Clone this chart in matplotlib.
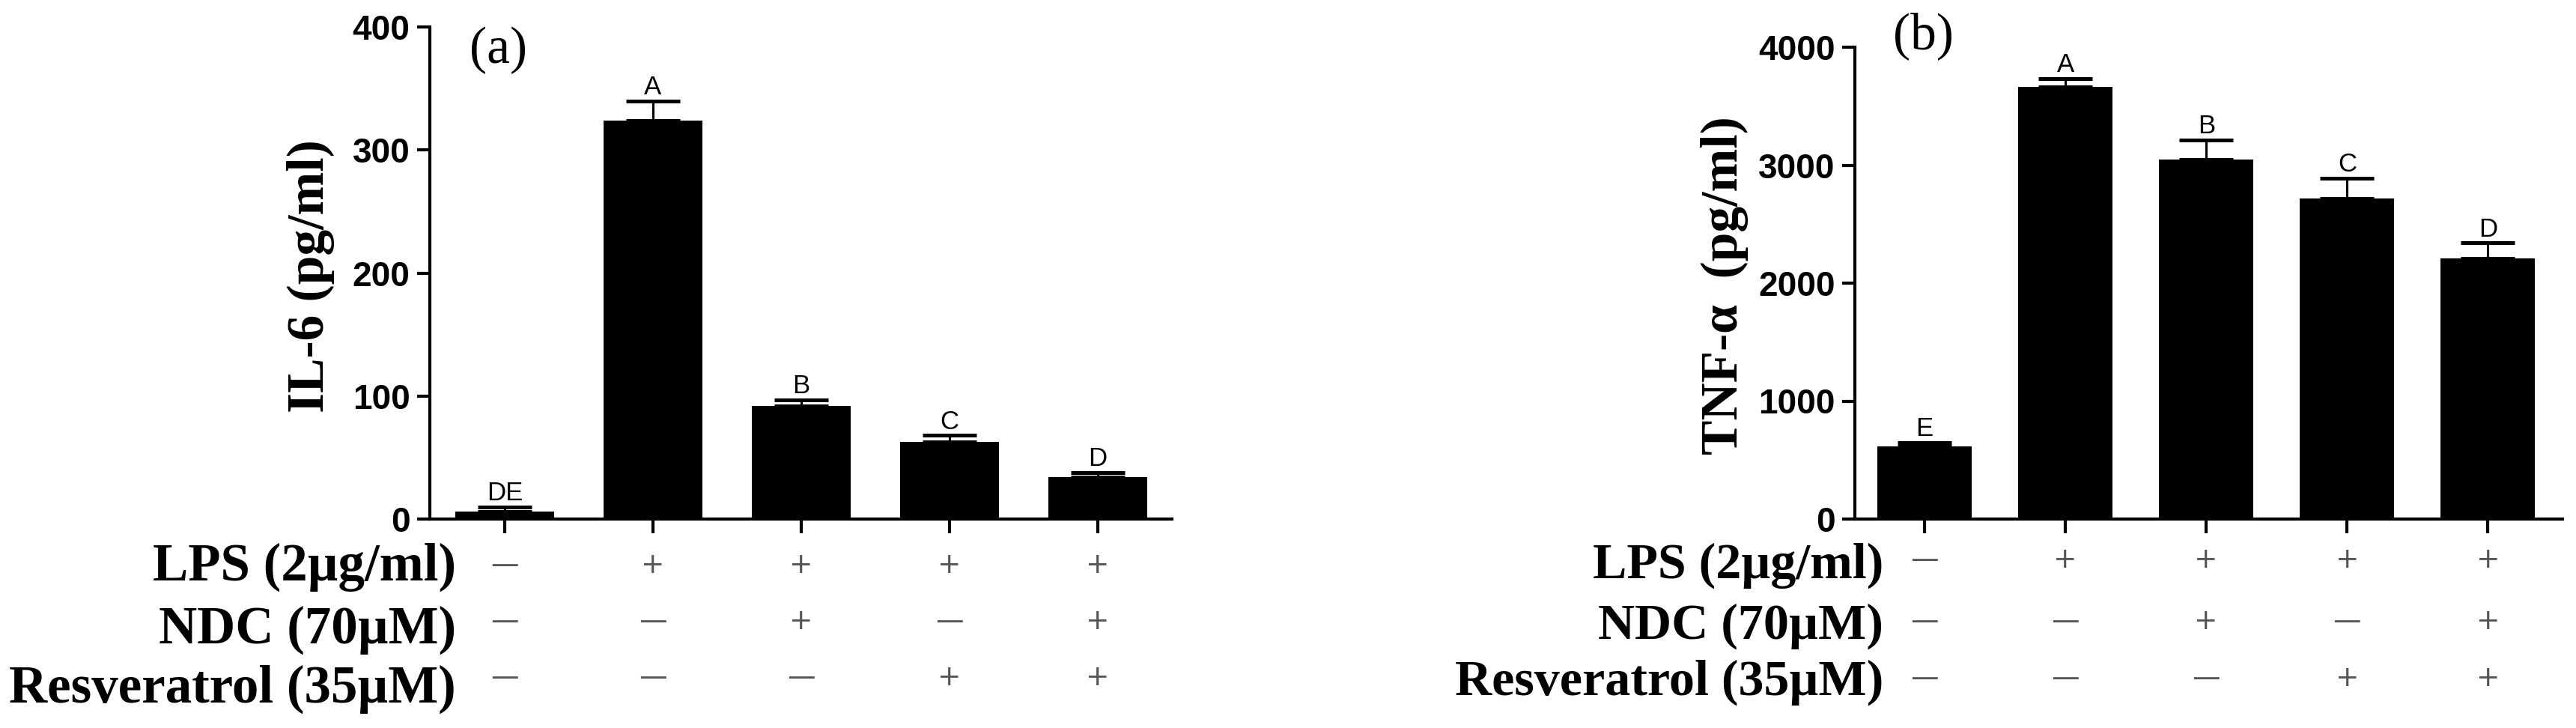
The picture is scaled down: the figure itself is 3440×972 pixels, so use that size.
import numpy as np
import matplotlib as mpl
mpl.use('Agg')
import matplotlib.pyplot as plt

# treatment grid shown under both panels
lps = ['—', '+', '+', '+', '+']
ndc = ['—', '—', '+', '—', '+']
res = ['—', '—', '—', '+', '+']
row_names = ['LPS (2µg/ml)', 'NDC (70µM)', 'Resveratrol (35µM)']

il6 = [6, 324, 92, 63, 34]
il6_err = [4, 16, 5, 5, 4]
il6_letters = ['DE', 'A', 'B', 'C', 'D']

tnf = [615, 3665, 3050, 2715, 2210]
tnf_err = [35, 70, 165, 175, 130]
tnf_letters = ['E', 'A', 'B', 'C', 'D']

W, H = 3440, 972
fig = plt.figure(figsize=(W / 100, H / 100), dpi=100)

serif = 'Liberation Serif'
sans = 'Liberation Sans'
letter_font = ['Liberation Sans Narrow', 'Liberation Sans']


def fx(px):
    return px / W


def fy(px):
    return 1 - px / H


def panel(x0, x1, ytop, xlim, vals, errs, letters, ymax, yticks,
          ylabel, ylab_x, ylab_y, tag, tag_xy, label_right, row_ys,
          row_size, sign_ys):
    ax = fig.add_axes([fx(x0), fy(693), fx(x1 - x0), fy(ytop) - fy(693)])
    x = np.arange(len(vals))
    ax.errorbar(x, vals, yerr=[np.zeros(len(errs)), errs], fmt='none',
                ecolor='black', elinewidth=2.2, capsize=26, capthick=3.6,
                zorder=1)
    ax.bar(x, vals, width=0.67, color='black', zorder=2)
    for xi, v, e, lab in zip(x, vals, errs, letters):
        ax.annotate(lab, (xi, v + e), xytext=(0, 6), textcoords='offset points',
                    ha='center', va='baseline', fontsize=25,
                    family=letter_font)
    ax.set_xlim(*xlim)
    ax.set_ylim(0, ymax)
    ax.set_yticks(yticks)
    ax.set_xticks(x)
    ax.set_xticklabels([])
    for s in ['top', 'right']:
        ax.spines[s].set_visible(False)
    for s in ['left', 'bottom']:
        ax.spines[s].set_linewidth(3)
    ax.tick_params(axis='y', length=12, width=3, pad=7, labelsize=33)
    ax.tick_params(axis='x', length=14, width=3)
    for t in ax.get_yticklabels():
        t.set_fontfamily(sans)
        t.set_fontweight('bold')

    fig.text(fx(ylab_x), fy(ylab_y), ylabel, rotation=90, ha='center',
             va='center', fontsize=50, fontweight='bold', family=serif)
    fig.text(fx(tag_xy[0]), fy(tag_xy[1]), tag, ha='center', va='center',
             fontsize=50, family=serif)

    for name, by in zip(row_names, row_ys):
        fig.text(fx(label_right), fy(by), name, ha='right', va='baseline',
                 fontsize=row_size, fontweight='bold', family=serif)

    # +/- signs placed under each bar
    for signs, sy in zip([lps, ndc, res], sign_ys):
        for xi, s in zip(x, signs):
            px = ax.transData.transform((xi, 0))[0]
            fig.text(px / W, fy(sy), s, ha='center', va='center',
                     fontsize=27, color='#555555', family='DejaVu Sans')
    return ax


panel(574, 1565, 36, (-0.505, 4.5), il6, il6_err, il6_letters, 400,
      [0, 100, 200, 300, 400], 'IL-6 (pg/ml)', 415, 369, '(a)', (665, 67),
      609, [775, 859, 938], 51, [755, 830, 905])

panel(2477, 3422, 63, (-0.495, 4.53), tnf, tnf_err, tnf_letters, 4000,
      [0, 1000, 2000, 3000, 4000], 'TNF-α  (pg/ml)', 2303, 381, '(b)',
      (2568, 48), 2515, [772, 853, 928], 49, [748, 830, 906])

fig.savefig('out.png', dpi=100)
